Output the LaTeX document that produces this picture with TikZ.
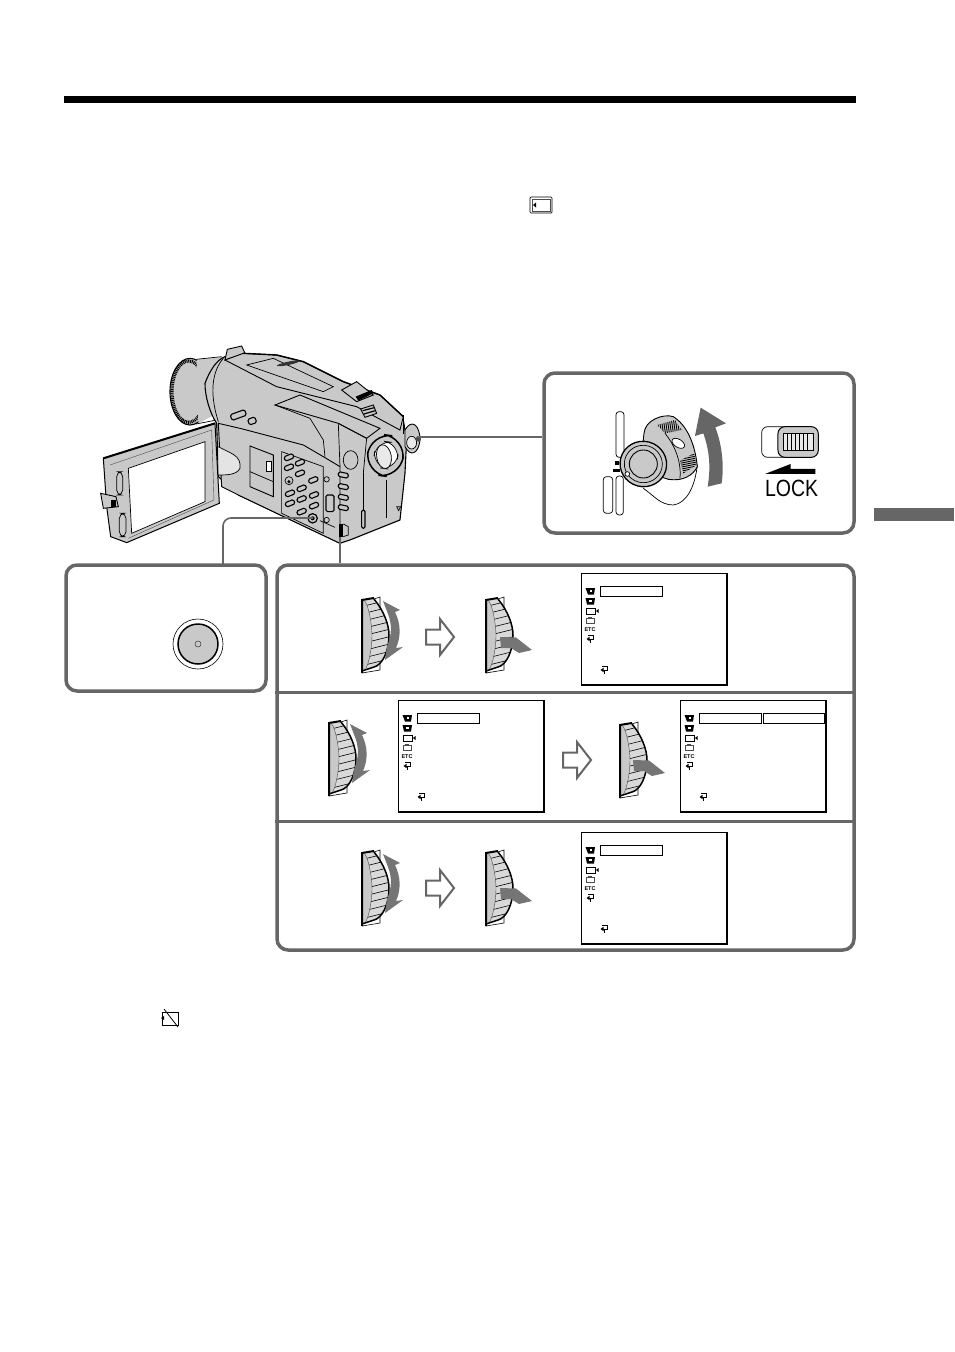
\documentclass[tikz,border=0pt]{standalone}
\usepackage{fontspec}
\newfontfamily\labelfont{Liberation Sans}
\usetikzlibrary{calc,positioning}
\definecolor{panelgray}{HTML}{666666}
\definecolor{camgray}{HTML}{C9C9C9}
\tikzset{
  panelbox/.style={
    rectangle,
    rounded corners=11pt,
    draw=panelgray, line width=3.5pt,
    fill=white,
    inner sep=0pt},
  panelline/.style={draw=panelgray, line width=3pt},
  leader/.style={draw=panelgray, line width=1.6pt, rounded corners=8pt},
  camline/.style={draw=black, line width=.7pt},
  camfill/.style={fill=camgray, draw=black, line width=.9pt},
  camkey/.style={fill=camgray, draw=black, line width=1.1pt, rounded corners=1.5pt},
  hollowarrow/.style={fill=white, draw=panelgray, line width=2pt, line join=miter},
  menubox/.style={draw=black, line width=.8pt, fill=white},
  pics/dial/.style={code={
    \fill[white] (0,3) -- (18,0) -- (18,73) -- (0,76) -- cycle;
    \draw[black, line width=.6pt] (12,2) -- (18,0) -- (18,73) -- (0,76);
    \begin{scope}
      \clip (0,4) -- (12,2) .. controls (22,14) and (27,28) .. (27,38) .. controls (27,55) and (20,68) .. (12,70) -- (0,74) -- cycle;
      \fill[camgray!70] (0,0) rectangle (30,78);
      \foreach \ribnum in {0,...,8}
        \draw[black, line width=.6pt] (2,{9+7.4*\ribnum}) -- (30,{2+7.4*\ribnum});
      \fill[camgray] (0,2) .. controls (6,2) and (10,28) .. (10,38) .. controls (10,52) and (6,74) .. (0,76) -- cycle;
      \draw[black!70, line width=.4pt] (0,2) .. controls (6,2) and (10,28) .. (10,38) .. controls (10,52) and (6,74) .. (0,76);
    \end{scope}
    \draw[black, line width=1.5pt] (12,2) .. controls (22,14) and (27,28) .. (27,38) .. controls (27,55) and (20,68) .. (12,70) -- (0,74);
    \draw[black, line width=2pt] (0,76) -- (0,3) -- (12,1);
  }},
  pics/dialturn/.style={code={
    \fill[panelgray!90] (21,4) -- (38,13) -- (33,15) .. controls (39,27) and (39,40) .. (34,51) -- (41,50) -- (23,63) -- (25,49) .. controls (30,38) and (30,27) .. (26,17) -- cycle;
  }},
  pics/dialpress/.style={code={
    \fill[panelgray!90] (0,0) -- (16,.5) -- (32,13) -- (19,16) -- (11,11) -- (1,11) -- cycle;
  }},
  pics/movearrow/.style={code={
    \draw[hollowarrow] (0,-7.5) -- (14,-7.5) -- (14,-18) -- (28,0) -- (14,18) -- (14,7.5) -- (0,7.5) -- cycle;
  }},
  pics/returnmark/.style={code={
    \draw[black, line width=.9pt] (-2,-3.5) -- (3,-3.5) -- (3,0) -- (-1,0);
    \fill[black] (-3.5,0) -- (-.5,-2.2) -- (-.5,2.2) -- cycle;
    \draw[black, line width=.8pt] (.5,0) -- (.5,3.5);
  }},
  pics/menupanel/.style={code={
    \draw[menubox] (0,0) rectangle (146,112);
    \draw[black, line width=1.3pt] (146,0) -- (146,112) -- (0,112);
    \draw[menubox] (19,13) rectangle (81,23);
    % icons down the left side
    \fill[black] (4.5,15) -- (14,15) -- (13,21.5) -- (7,21.5) -- cycle;
    \fill[white] (9,17) rectangle (11,19);
    \fill[black] (4.5,25) -- (14,25) -- (13,31.5) -- (6,31.5) -- cycle;
    \fill[white] (7.5,27) rectangle (11,29);
    \draw[black, line width=.6pt] (5,35) rectangle (14,41);
    \fill[black] (15,38) -- (17.5,36) -- (17.5,40) -- cycle;
    \draw[black!70, line width=.6pt] (5,45.5) rectangle (13,50.5);
    \draw[black!70, line width=.6pt] (7.5,45.5) -- (7.5,44) -- (10.5,44) -- (10.5,45.5);
    \node[font=\labelfont\bfseries\fontsize{5.5}{5.5}\selectfont, inner sep=0pt] (-etc) at (9,57) {ETC};
    \pic at (9,66) {returnmark};
    \pic at (23,97) {returnmark};
  }},
  pics/cardmark/.style={code={
    \draw[black, line width=.7pt, rounded corners=1pt] (0,0) rectangle (22,16);
    \draw[black!70, line width=.5pt] (2,2) rectangle (20,14);
    \fill[black] (3,8) -- (6,5.5) -- (6,10.5) -- cycle;
  }},
}
\begin{document}
\begin{tikzpicture}[x=1pt,y=-1pt]
  \useasboundingbox (0,0) rectangle (954,1352);
  \fill[black] (64,96) rectangle (856,103);
  \fill[panelgray] (874,508) rectangle (954,521);
  \pic at (530,197) {cardmark};
  % slashed card symbol
  \draw[black, line width=.8pt] (162,1012) -- (178,1012) -- (178,1025) -- (162,1025) -- cycle;
  \draw[black, line width=.8pt] (164,1009) -- (178,1027);
  \fill[black] (161,1018) -- (164,1016) -- (164,1020) -- cycle;

  % camera
  \begin{scope}[shift={(90,340)},x=.3333pt,y=-.3333pt]
    \draw[camfill, line width=1.1pt] (300,155) ellipse [x radius=60, y radius=100];
    \draw[black, line width=3.2pt, dash pattern=on 1pt off .8pt] (296,155) ellipse [x radius=50, y radius=92];
    \fill[camgray] (320,58) -- (405,50) -- (420,200) -- (325,250) -- cycle;
    \draw[camline] (318,58) -- (395,50);
    \draw[camline] (318,252) -- (380,240);
    \draw[camfill, line width=1.1pt] (345,130) .. controls (360,90) and (380,60) .. (405,50) -- (750,150) -- (860,170) -- (940,240) -- (950,300) -- (945,400) -- (930,540) -- (780,600) -- (750,610) -- (445,465) -- (385,410) -- (380,250) .. controls (360,220) and (345,170) .. (345,130) -- cycle;
    % top strip and hot shoe
    \draw[camfill] (405,60) -- (412,28) -- (455,18) -- (465,40) -- cycle;
    \draw[camfill] (405,60) -- (460,40) -- (560,45) -- (640,65) -- (760,125) -- (870,165) -- (940,230) -- (930,270) -- (800,200) -- (560,140) -- cycle;
    \draw[black, line width=1.4pt] (460,40) -- (560,45) -- (640,65) -- (760,125) -- (870,165) -- (940,230);
    \draw[camline] (470,75) -- (550,55) -- (730,140) -- (700,155) -- cycle;
    \fill[black!80, rotate around={12:(595,70)}] (595,70) ellipse [x radius=35, y radius=5];
    \draw[camfill] (755,150) -- (800,125) -- (850,165) -- (800,185) -- cycle;
    \fill[black] (797,170) -- (845,150) -- (850,160) -- (805,182) -- cycle;
    \draw[camfill] (812,207) -- (850,195) -- (860,220) -- (825,232) -- cycle;
    \draw[black, line width=1.2pt] (818,212) -- (853,203);
    \draw[black, line width=1.2pt] (822,222) -- (856,212);
    % front facets
    \draw[camfill] (555,195) -- (630,165) -- (870,265) -- (830,295) -- (745,250) -- cycle;
    \draw[camline] (745,250) -- (750,380);
    \draw[camline] (745,250) -- (830,295) -- (820,400);
    \draw[camline] (555,195) -- (660,235) -- (700,300) -- (705,350);
    \draw[camline] (400,55) .. controls (370,90) and (355,150) .. (385,245);
    \draw[camfill] (385,250) -- (450,265) -- (640,315) -- (700,350) -- (750,380) -- (750,610) -- (445,465) -- (395,440) -- cycle;
    \draw[camfill] (480,318) -- (550,345) -- (550,470) -- (480,440) -- cycle;
    \draw[camline] (480,395) -- (550,425);
    \draw[camfill, fill=white] (530,365) rectangle (545,395);
    \draw[camline] (575,335) -- (700,380) -- (700,580) -- (575,520) -- cycle;
    \foreach \keyx/\keyy in {597/352,630/368,597/382,630/400,670/420,635/445,600/460,635/477,672/465,672/497,600/490,635/515}
      \draw[camkey, rotate around={22:(\keyx,\keyy)}] (\keyx-14,\keyy-7) rectangle (\keyx+14,\keyy+7);
    \foreach \keyy in {405,440,472,503}
      \draw[camkey, rotate around={-12:(760,\keyy)}] (745,\keyy-7) rectangle (775,\keyy+7);
    \draw[camline] (710,418) circle (8);
    \draw[camline] (710,540) circle (8);
    \draw[camkey] (708,465) rectangle (732,515);
    \draw[camfill, line width=1.2pt] (668,535) circle (14);
    \fill[black] (668,535) circle (6);
    \draw[camline] (690,542) -- (735,562);
    \fill[black] (746,552) rectangle (760,590);
    \draw[camline] (760,552) -- (775,560) -- (775,585) -- (760,590);
    \draw[camline] (597,422) circle (12);
    \fill[black] (597,425) circle (5);
    \draw[camline] (820,400) -- (820,565);
    \draw[camline] (890,420) -- (890,535);
    \draw[camkey] (815,510) rectangle (825,565);
    \draw[camline] (920,500) -- (932,500) -- (926,512) -- cycle;
    \draw[camline] (782,360) ellipse [x radius=22, y radius=28];
    \draw[camkey, rotate around={20:(445,225)}] (422,216) rectangle (468,234);
    \draw[camkey, rotate around={20:(486,243)}] (475,234) rectangle (498,252);
    % grip beside the hinge
    \fill[camgray!50] (385,320) .. controls (420,340) and (455,345) .. (450,385) .. controls (440,405) and (410,405) .. (385,405) -- cycle;
    \draw[camline] (385,320) .. controls (420,340) and (455,345) .. (450,385) .. controls (440,405) and (410,405) .. (385,405);
    % knob behind the eyepiece
    \draw[camfill] (945,270) .. controls (965,235) and (990,255) .. (990,300) .. controls (985,345) and (960,350) .. (945,320) -- cycle;
    \draw[camline, fill=camgray!40] (965,308) ellipse [x radius=15, y radius=19];
    \fill[black!70] (985,297) circle (8);
    \draw[black, line width=1pt] (942,225) -- (942,282);
    % eyepiece
    \draw[camfill, line width=1.5pt, rounded corners=22pt, rotate around={-8:(885,345)}] (833,285) rectangle (940,408);
    \draw[camline, fill=white, rounded corners=16pt, rotate around={-8:(888,345)}] (853,305) rectangle (924,386);
    \draw[camline, fill=camgray!40, rotate around={10:(882,350)}] (882,350) ellipse [x radius=22, y radius=36];
    % LCD panel
    \draw[camfill, line width=1pt] (40,355) -- (375,250) -- (388,490) -- (110,608) -- (62,590) -- (50,500) -- cycle;
    \draw[black, line width=2pt] (40,355) -- (375,250);
    \draw[camline, fill=white] (115,385) -- (345,305) -- (345,485) -- (125,580) -- cycle;
    \draw[black!70, line width=.4pt] (60,375) -- (365,270) -- (372,480) -- (115,595);
    \draw[camline, rounded corners=5pt] (80,395) rectangle (98,465);
    \draw[camline, rounded corners=5pt] (88,520) rectangle (108,590);
    \draw[camfill] (32,460) -- (78,470) -- (85,500) -- (40,505) -- cycle;
    \fill[black] (62,480) rectangle (78,500);
  \end{scope}

  \coordinate (viewknob) at (417,437);
  \coordinate (recjack) at (313,518);
  \coordinate (slidesw) at (340,537);

  % panels
  \node[panelbox, minimum width=310pt, minimum height=160pt] (lockpanel) at (699,453) {};
  \node[panelbox, minimum width=200pt, minimum height=126pt] (recpanel) at (166,628) {};
  \node[panelbox, minimum width=577pt, minimum height=385pt] (stepspanel) at (565.5,757.5) {};
  \draw[panelline] (stepspanel.west |- 0,692) -- (stepspanel.east |- 0,692);
  \draw[panelline] (stepspanel.west |- 0,821) -- (stepspanel.east |- 0,821);
  \draw[leader] (viewknob) -- (viewknob -| lockpanel.west);
  \draw[leader] (recjack) -| (223,565);
  \draw[leader] (slidesw) -- (slidesw |- stepspanel.north);

  % record button
  \draw[black, line width=.6pt] (198,644) circle (25);
  \draw[black, fill=camgray, line width=1.5pt] (198,644) circle (20);
  \draw[black!80, line width=.5pt] (198,644) circle (3);

  % lock switch drawing
  \begin{scope}[shift={(540,370)},x=.3333pt,y=-.3333pt]
    \draw[camline, fill=white, rounded corners=3pt] (228,125) rectangle (252,262);
    \draw[camline, fill=white, rounded corners=3pt] (228,318) rectangle (250,435);
    \draw[camline, fill=white, rounded corners=3pt] (190,320) rectangle (218,430);
    \draw[camline, fill=white] (310,355) .. controls (340,375) and (360,405) .. (400,405) .. controls (440,400) and (465,350) .. (472,285);
    \draw[camfill] (312,190) .. controls (315,150) and (370,130) .. (400,140) .. controls (440,165) and (465,220) .. (472,290) .. controls (460,315) and (430,335) .. (385,328) -- (300,300) -- cycle;
    \begin{scope}
      \clip (352,165) -- (405,150) -- (425,180) -- (375,190) -- cycle;
      \foreach \ribx in {345,351,...,430}
        \draw[black, line width=.9pt] (\ribx,140) -- (\ribx+8,195);
    \end{scope}
    \begin{scope}
      \clip (420,272) -- (462,250) -- (470,285) -- (430,310) -- cycle;
      \foreach \riby in {245,251,...,315}
        \draw[black, line width=.9pt] (415,\riby+6) -- (475,\riby-6);
    \end{scope}
    \draw[camline] (375,190) .. controls (400,220) and (425,270) .. (420,325);
    \draw[camline, fill=white, rotate around={-32:(415,220)}] (415,220) ellipse [x radius=21, y radius=12];
    \draw[camfill, line width=1.3pt, rotate around={-15:(310,282)}] (310,282) ellipse [x radius=70, y radius=68];
    \draw[camline, rotate around={-15:(310,282)}] (310,282) ellipse [x radius=57, y radius=56];
    \draw[camfill] (310,282) circle (42);
    \fill[black] (226,272) rectangle (236,284);
    \fill[black] (218,298) rectangle (240,306);
    \draw[camline, fill=white] (262,312) circle (7);
    \fill[panelgray] (482,113) -- (558,160) -- (526,172) .. controls (548,230) and (552,290) .. (545,340) -- (503,350) .. controls (513,290) and (508,240) .. (490,190) -- (465,198) -- cycle;
    % slide lock
    \draw[camline, rounded corners=6pt, fill=white] (665,170) rectangle (760,262);
    \draw[black, fill=camgray, line width=1pt, rounded corners=7pt] (714,170) rectangle (835,262);
    \draw[camline, fill=camgray!40] (730,190) rectangle (820,240);
    \foreach \ribx in {742,754,...,810}
      \draw[black, line width=.6pt] (\ribx,190) -- (\ribx,240);
    \fill[black] (675,312) -- (752,282) -- (752,297) -- (826,297) -- (826,312) -- cycle;
    \node[font=\labelfont\fontsize{23.5}{24}\selectfont, xscale=.83, inner sep=0pt, anchor=center] (locktext) at (755,355) {LOCK};
  \end{scope}

  % first row
  \pic at (362,597) {dial};
  \pic at (362,597) {dialturn};
  \pic at (426,637) {movearrow};
  \pic at (486,597) {dial};
  \pic at (500,637) {dialpress};
  \pic (menua) at (581,573) {menupanel};
  % second row
  \pic at (329,720) {dial};
  \pic at (329,720) {dialturn};
  \pic (menub) at (398,700) {menupanel};
  \pic at (563,760) {movearrow};
  \pic at (620,722) {dial};
  \pic at (633,760) {dialpress};
  \pic (menuc) at (680,700) {menupanel};
  \draw[menubox] (763,713) rectangle (824,723);
  % third row
  \pic at (362,850) {dial};
  \pic at (362,850) {dialturn};
  \pic at (426,888) {movearrow};
  \pic at (486,850) {dial};
  \pic at (500,888) {dialpress};
  \pic (menud) at (581,832) {menupanel};
\end{tikzpicture}
\end{document}
